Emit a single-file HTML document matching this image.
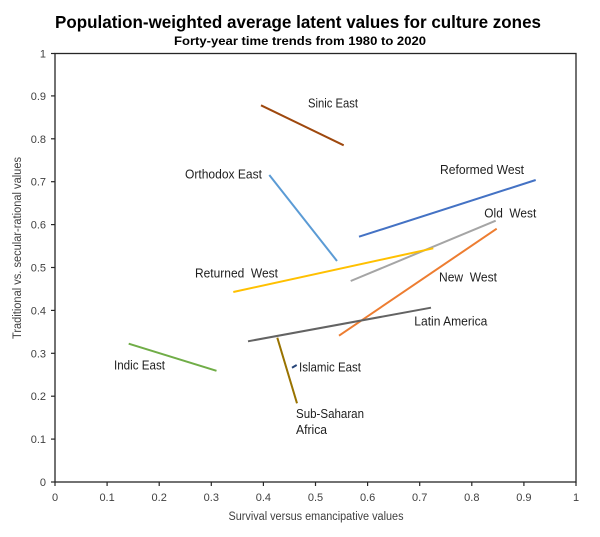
<!DOCTYPE html>
<html>
<head>
<meta charset="utf-8">
<style>
  html, body { margin: 0; padding: 0; background: #fff; }
  svg { display: block; }
  text { font-family: "Liberation Sans", "DejaVu Sans", sans-serif; }
</style>
</head>
<body>
<svg width="600" height="537" viewBox="0 0 600 537" xmlns="http://www.w3.org/2000/svg">
  <rect width="600" height="537" fill="#fff"/>

  <!-- Titles -->
  <text x="55" y="28" font-size="17.5" font-weight="bold" fill="#000" textLength="486" lengthAdjust="spacingAndGlyphs">Population-weighted average latent values for culture zones</text>
  <text x="174" y="45" font-size="12" font-weight="bold" fill="#000" textLength="252" lengthAdjust="spacingAndGlyphs">Forty-year time trends from 1980 to 2020</text>

  <!-- Plot frame -->
  <rect x="55" y="53.5" width="521" height="428.5" fill="none" stroke="#262626" stroke-width="1.3"/>

  <!-- Y ticks -->
  <g stroke="#262626" stroke-width="1.2">
    <line x1="51" y1="482" x2="55" y2="482"/>
    <line x1="51" y1="439.1" x2="55" y2="439.1"/>
    <line x1="51" y1="396.2" x2="55" y2="396.2"/>
    <line x1="51" y1="353.3" x2="55" y2="353.3"/>
    <line x1="51" y1="310.4" x2="55" y2="310.4"/>
    <line x1="51" y1="267.5" x2="55" y2="267.5"/>
    <line x1="51" y1="224.6" x2="55" y2="224.6"/>
    <line x1="51" y1="181.7" x2="55" y2="181.7"/>
    <line x1="51" y1="138.8" x2="55" y2="138.8"/>
    <line x1="51" y1="95.9" x2="55" y2="95.9"/>
    <line x1="51" y1="53.5" x2="55" y2="53.5"/>
  </g>
  <!-- X ticks -->
  <g stroke="#262626" stroke-width="1.2">
    <line x1="55" y1="482" x2="55" y2="486"/>
    <line x1="107.1" y1="482" x2="107.1" y2="486"/>
    <line x1="159.2" y1="482" x2="159.2" y2="486"/>
    <line x1="211.3" y1="482" x2="211.3" y2="486"/>
    <line x1="263.4" y1="482" x2="263.4" y2="486"/>
    <line x1="315.5" y1="482" x2="315.5" y2="486"/>
    <line x1="367.6" y1="482" x2="367.6" y2="486"/>
    <line x1="419.7" y1="482" x2="419.7" y2="486"/>
    <line x1="471.8" y1="482" x2="471.8" y2="486"/>
    <line x1="523.9" y1="482" x2="523.9" y2="486"/>
    <line x1="576" y1="482" x2="576" y2="486"/>
  </g>

  <!-- Y tick labels -->
  <g font-size="11" fill="#404040" text-anchor="end">
    <text x="46" y="486">0</text>
    <text x="46" y="443.1">0.1</text>
    <text x="46" y="400.2">0.2</text>
    <text x="46" y="357.3">0.3</text>
    <text x="46" y="314.4">0.4</text>
    <text x="46" y="271.5">0.5</text>
    <text x="46" y="228.6">0.6</text>
    <text x="46" y="185.7">0.7</text>
    <text x="46" y="142.8">0.8</text>
    <text x="46" y="99.9">0.9</text>
    <text x="46" y="57.5">1</text>
  </g>
  <!-- X tick labels -->
  <g font-size="11" fill="#404040" text-anchor="middle">
    <text x="55" y="501">0</text>
    <text x="107.1" y="501">0.1</text>
    <text x="159.2" y="501">0.2</text>
    <text x="211.3" y="501">0.3</text>
    <text x="263.4" y="501">0.4</text>
    <text x="315.5" y="501">0.5</text>
    <text x="367.6" y="501">0.6</text>
    <text x="419.7" y="501">0.7</text>
    <text x="471.8" y="501">0.8</text>
    <text x="523.9" y="501">0.9</text>
    <text x="576" y="501">1</text>
  </g>

  <!-- Axis titles -->
  <text x="228.5" y="520" font-size="11.5" fill="#404040" textLength="175" lengthAdjust="spacingAndGlyphs">Survival versus emancipative values</text>
  <text transform="translate(21,248) rotate(-90)" x="-91" y="0" font-size="11.5" fill="#404040" textLength="182" lengthAdjust="spacingAndGlyphs">Traditional vs. secular-rational values</text>

  <!-- Series -->
  <g stroke-width="2" stroke-linecap="butt" fill="none">
    <line x1="261" y1="105.3" x2="343.7" y2="145.3" stroke="#9E480E"/>
    <line x1="269.3" y1="175" x2="337" y2="261" stroke="#5B9BD5"/>
    <line x1="359" y1="236.7" x2="535.7" y2="180" stroke="#4472C4"/>
    <line x1="350.7" y1="281" x2="495.7" y2="220.7" stroke="#A5A5A5"/>
    <line x1="339" y1="335.7" x2="496.7" y2="228.7" stroke="#ED7D31"/>
    <line x1="233.3" y1="292" x2="433.3" y2="248.3" stroke="#FFC000"/>
    <line x1="248" y1="341.3" x2="431" y2="307.7" stroke="#636363"/>
    <line x1="128.7" y1="343.7" x2="216.5" y2="370.8" stroke="#70AD47"/>
    <line x1="277.3" y1="337.7" x2="297" y2="403.3" stroke="#997300"/>
    <line x1="292" y1="367.7" x2="296.7" y2="365" stroke="#264478"/>
  </g>

  <!-- Series labels -->
  <g font-size="12.5" fill="#1f1f1f">
    <text x="308" y="107.5" textLength="50" lengthAdjust="spacingAndGlyphs">Sinic East</text>
    <text x="185" y="178.5" textLength="77" lengthAdjust="spacingAndGlyphs">Orthodox East</text>
    <text x="440" y="174" textLength="84" lengthAdjust="spacingAndGlyphs">Reformed West</text>
    <text x="484.3" y="217.5" textLength="52" lengthAdjust="spacingAndGlyphs" xml:space="preserve">Old  West</text>
    <text x="439" y="281.5" textLength="58" lengthAdjust="spacingAndGlyphs" xml:space="preserve">New  West</text>
    <text x="414.3" y="325.5" textLength="73" lengthAdjust="spacingAndGlyphs">Latin America</text>
    <text x="195" y="277.5" textLength="83" lengthAdjust="spacingAndGlyphs" xml:space="preserve">Returned  West</text>
    <text x="114" y="369.5" textLength="51" lengthAdjust="spacingAndGlyphs">Indic East</text>
    <text x="299" y="371.5" textLength="62" lengthAdjust="spacingAndGlyphs">Islamic East</text>
    <text x="296" y="418" textLength="68" lengthAdjust="spacingAndGlyphs">Sub-Saharan</text>
    <text x="296" y="434" textLength="31" lengthAdjust="spacingAndGlyphs">Africa</text>
  </g>
</svg>
</body>
</html>
